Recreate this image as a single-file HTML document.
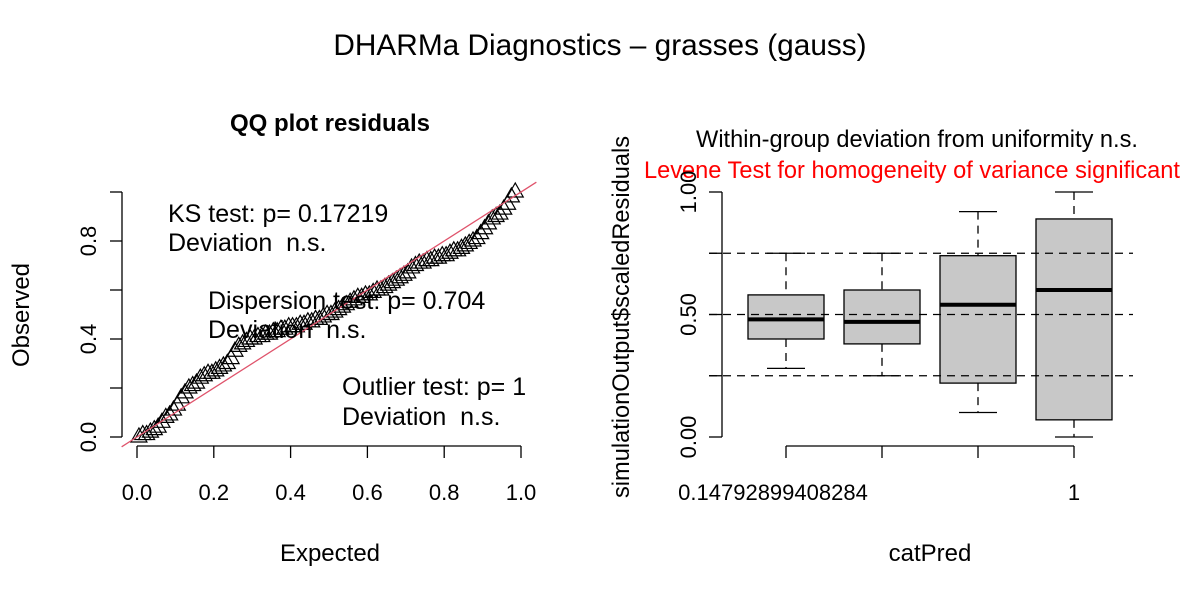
<!DOCTYPE html>
<html><head><meta charset="utf-8"><style>
body{margin:0;background:#fff}
svg text{font-family:"Liberation Sans",Arial,sans-serif;white-space:pre}
</style></head><body>
<svg width="1200" height="600" xmlns="http://www.w3.org/2000/svg">
<rect width="1200" height="600" fill="#fff"/>
<text x="600" y="55" font-size="29.8" text-anchor="middle">DHARMa Diagnostics – grasses (gauss)</text>
<g id="qq"></g>
<g id="bx"></g>
</svg>
<script>
const qqExpected=[0.005,0.015,0.025,0.035,0.045,0.055,0.065,0.075,0.085,0.095,0.105,0.115,0.125,0.135,0.145,0.155,0.165,0.175,0.185,0.195,0.205,0.215,0.225,0.235,0.245,0.255,0.265,0.275,0.285,0.295,0.305,0.315,0.325,0.335,0.345,0.355,0.365,0.375,0.385,0.395,0.405,0.415,0.425,0.435,0.445,0.455,0.465,0.475,0.485,0.495,0.505,0.515,0.525,0.535,0.545,0.555,0.565,0.575,0.585,0.595,0.605,0.615,0.625,0.635,0.645,0.655,0.665,0.675,0.685,0.695,0.705,0.715,0.725,0.735,0.745,0.755,0.765,0.775,0.785,0.795,0.805,0.815,0.825,0.835,0.845,0.855,0.865,0.875,0.885,0.895,0.905,0.915,0.925,0.935,0.945,0.955,0.965,0.975,0.985];
const qqObserved=[0.0,0.01,0.01,0.02,0.03,0.04,0.06,0.08,0.09,0.11,0.13,0.16,0.18,0.2,0.21,0.22,0.24,0.25,0.26,0.26,0.27,0.28,0.29,0.3,0.32,0.35,0.37,0.38,0.39,0.4,0.4,0.41,0.41,0.42,0.42,0.43,0.43,0.44,0.44,0.45,0.45,0.45,0.46,0.46,0.47,0.47,0.48,0.48,0.49,0.5,0.5,0.51,0.52,0.53,0.54,0.55,0.56,0.57,0.57,0.58,0.58,0.59,0.6,0.6,0.61,0.62,0.63,0.64,0.65,0.66,0.67,0.69,0.7,0.71,0.71,0.72,0.72,0.73,0.73,0.74,0.74,0.75,0.76,0.76,0.77,0.78,0.79,0.8,0.81,0.83,0.85,0.87,0.89,0.9,0.91,0.93,0.95,0.98,1.0];
const xTicks=[0,0.2,0.4,0.6,0.8,1.0];
const xTickLabels=["0.0","0.2","0.4","0.6","0.8","1.0"];
const yTicks=[0,0.2,0.4,0.6,0.8,1.0];
const yTickLabels=["0.0","","0.4","","0.8",""];
const boxCategories=["0.14792899408284","","","1"];
const boxLowWhisker=[0.28,0.25,0.10,0.0];
const boxQ1=[0.40,0.38,0.22,0.07];
const boxMedian=[0.48,0.47,0.54,0.60];
const boxQ3=[0.58,0.60,0.74,0.89];
const boxHighWhisker=[0.75,0.75,0.92,1.0];
const boxYTicks=[0,0.25,0.5,0.75,1.0];
const boxYTickLabels=["0.00","","0.50","","1.00"];
const refLines=[0.25,0.5,0.75];

const NS="http://www.w3.org/2000/svg";
function mk(p,t,a,txt){const e=document.createElementNS(NS,t);for(const k in a)e.setAttribute(k,a[k]);if(txt!==undefined)e.textContent=txt;p.appendChild(e);return e;}
const qx=v=>137+v*384, qy=v=>437-v*245;
const qq=document.getElementById('qq');
let e;
e=mk(qq,'text',{x:330,y:131,'font-size':24,'font-weight':'bold','text-anchor':'middle'},'QQ plot residuals');


e=mk(qq,'line',{x1:122,y1:qy(0),x2:122,y2:qy(1),stroke:'#000','stroke-width':1.3});


yTicks.forEach((v,i)=>{mk(qq,'line',{x1:110,x2:122,y1:qy(v),y2:qy(v),stroke:'#000','stroke-width':1.3});
 e=mk(qq,'text',{x:0,y:0,'font-size':22,'text-anchor':'middle',transform:`translate(96,${qy(v)}) rotate(-90)`},yTickLabels[i]);
 
 });
e=mk(qq,'line',{x1:qx(0),y1:446,x2:qx(1),y2:446,stroke:'#000','stroke-width':1.3});


xTicks.forEach((v,i)=>{mk(qq,'line',{x1:qx(v),x2:qx(v),y1:446,y2:458,stroke:'#000','stroke-width':1.3});
 e=mk(qq,'text',{x:qx(v),y:500,'font-size':22,'text-anchor':'middle'},xTickLabels[i]);
 
 });
e=mk(qq,'text',{x:330,y:561,'font-size':24,'text-anchor':'middle'},'Expected');


e=mk(qq,'text',{x:0,y:0,'font-size':24,'text-anchor':'middle',transform:'translate(29,315) rotate(-90)'},'Observed');


qqExpected.forEach((v,i)=>{const x=qx(v),y=qy(qqObserved[i]);
 e=mk(qq,'polygon',{points:`${x},${y-9} ${x-8},${y+5} ${x+8},${y+5}`,fill:'none',stroke:'#000','stroke-width':1.2});
 
 });
e=mk(qq,'line',{x1:qx(-0.04),y1:qy(-0.04),x2:qx(1.04),y2:qy(1.04),stroke:'#df536b','stroke-width':1.3});


[['KS test: p= 0.17219',168,222],['Deviation  n.s.',168,251],['Dispersion test: p= 0.704',208,309],['Deviation  n.s.',208,338],['Outlier test: p= 1',342,395],['Deviation  n.s.',342,425]].forEach(t=>{
 e=mk(qq,'text',{x:t[1],y:t[2],'font-size':25},t[0]);
 
 });

const bx=document.getElementById('bx');
const by=v=>437-v*245, bxp=i=>786+i*96;
e=mk(bx,'text',{x:917,y:147,'font-size':23.6,'text-anchor':'middle'},'Within-group deviation from uniformity n.s.');


e=mk(bx,'text',{x:644,y:178,'font-size':23.6,fill:'#f00'},'Levene Test for homogeneity of variance significant');


e=mk(bx,'line',{x1:722,y1:by(0),x2:722,y2:by(1),stroke:'#000','stroke-width':1.3});


boxYTicks.forEach((v,i)=>{mk(bx,'line',{x1:709,x2:722,y1:by(v),y2:by(v),stroke:'#000','stroke-width':1.3});
 e=mk(bx,'text',{x:0,y:0,'font-size':22,'text-anchor':'middle',transform:`translate(696,${by(v)}) rotate(-90)`},boxYTickLabels[i]);
 
 });
e=mk(bx,'text',{x:0,y:0,'font-size':23.6,'text-anchor':'middle',transform:'translate(629,317) rotate(-90)'},'simulationOutput$scaledResiduals');


e=mk(bx,'line',{x1:bxp(0),y1:446,x2:bxp(3),y2:446,stroke:'#000','stroke-width':1.3});


boxCategories.forEach((c,i)=>{mk(bx,'line',{x1:bxp(i),x2:bxp(i),y1:446,y2:458,stroke:'#000','stroke-width':1.3});
 if(c){e=mk(bx,'text',{x:bxp(i)-13*(i===0),y:500,'font-size':22,'text-anchor':'middle'},c);
 
 }});
e=mk(bx,'text',{x:930,y:561,'font-size':24,'text-anchor':'middle'},'catPred');


boxCategories.forEach((c,i)=>{const x=bxp(i),g=mk(bx,'g',{});
 
 
 mk(g,'line',{x1:x,x2:x,y1:by(boxHighWhisker[i]),y2:by(boxQ3[i]),stroke:'#000','stroke-width':1.3,'stroke-dasharray':'8,6'});
 mk(g,'line',{x1:x,x2:x,y1:by(boxQ1[i]),y2:by(boxLowWhisker[i]),stroke:'#000','stroke-width':1.3,'stroke-dasharray':'8,6'});
 mk(g,'line',{x1:x-19,x2:x+19,y1:by(boxHighWhisker[i]),y2:by(boxHighWhisker[i]),stroke:'#000','stroke-width':1.3});
 mk(g,'line',{x1:x-19,x2:x+19,y1:by(boxLowWhisker[i]),y2:by(boxLowWhisker[i]),stroke:'#000','stroke-width':1.3});
 mk(g,'rect',{x:x-38,y:by(boxQ3[i]),width:76,height:by(boxQ1[i])-by(boxQ3[i]),fill:'#c8c8c8',stroke:'#000','stroke-width':1.3});
 mk(g,'line',{x1:x-38,x2:x+38,y1:by(boxMedian[i]),y2:by(boxMedian[i]),stroke:'#000','stroke-width':4});});
refLines.forEach(v=>{e=mk(bx,'line',{x1:709,x2:1133,y1:by(v),y2:by(v),stroke:'#000','stroke-width':1.3,'stroke-dasharray':'8,6'});
 
 });
</script>
</body></html>
